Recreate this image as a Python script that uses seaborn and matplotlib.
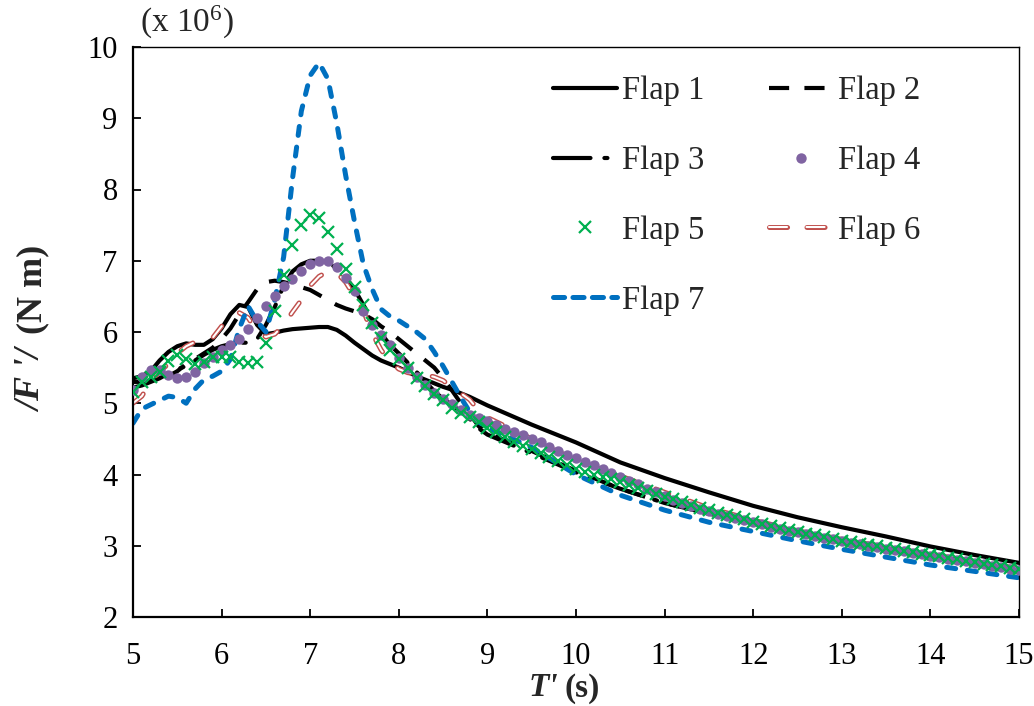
import numpy as np
import pandas as pd
import matplotlib
matplotlib.use("Agg")
import matplotlib.pyplot as plt
from matplotlib.lines import Line2D
import seaborn as sns

# ---------------- data (values in units of 10^6 N m) ----------------
T_LINE = [5.0, 5.1, 5.2, 5.3, 5.4, 5.5, 5.6, 5.7, 5.8, 5.9,
          6.0, 6.1, 6.2, 6.3, 6.4, 6.5, 6.6, 6.7, 6.8, 6.9,
          7.0, 7.1, 7.2, 7.3, 7.4, 7.5, 7.6, 7.7, 7.8, 7.9,
          8.0, 8.1, 8.2, 8.3, 8.4, 8.5, 8.6, 8.7, 8.8, 8.9,
          9.0, 9.5, 10.0, 10.5, 11.0, 11.5, 12.0, 12.5, 13.0, 13.5,
          14.0, 14.5, 15.0]

FLAP1 = [5.35, 5.38, 5.45, 5.6, 5.72, 5.8, 5.84, 5.82, 5.82, 5.9,
         6.05, 6.25, 6.38, 6.35, 6.1, 5.97, 5.99, 6.02, 6.04, 6.05,
         6.06, 6.07, 6.07, 6.03, 5.95, 5.85, 5.76, 5.67, 5.6, 5.55,
         5.5, 5.44, 5.38, 5.33, 5.28, 5.23, 5.19, 5.14, 5.09, 5.03,
         4.97, 4.7, 4.45, 4.17, 3.95, 3.75, 3.56, 3.4, 3.26, 3.13,
         2.99, 2.87, 2.76]

FLAP2 = [5.3, 5.3, 5.32, 5.33, 5.38, 5.45, 5.55, 5.62, 5.7, 5.78,
         5.9, 6.05, 6.25, 6.42, 6.6, 6.7, 6.72, 6.7, 6.67, 6.63,
         6.59, 6.52, 6.45, 6.38, 6.33, 6.29, 6.25, 6.18, 6.08, 6.0,
         5.9, 5.8, 5.7, 5.6, 5.5, 5.35, 5.18, 5.0, 4.85, 4.68,
         4.58, 4.33, 4.05, 3.8, 3.6, 3.45, 3.32, 3.19, 3.07, 2.96,
         2.86, 2.76, 2.66]

FLAP3 = [5.22, 5.25, 5.3, 5.35, 5.42, 5.48, 5.52, 5.6, 5.68, 5.75,
         5.8, 5.83, 5.85, 5.85, 5.9, 6.1, 6.35, 6.65, 6.85, 6.95,
         7.0, 7.0, 6.97, 6.9, 6.77, 6.6, 6.38, 6.17, 5.98, 5.82,
         5.7, 5.57, 5.44, 5.3, 5.17, 5.06, 4.98, 4.88, 4.78, 4.65,
         4.56, 4.3, 4.03, 3.8, 3.6, 3.45, 3.32, 3.19, 3.07, 2.96,
         2.86, 2.76, 2.66]

FLAP6 = [5.0, 5.1, 5.3, 5.45, 5.55, 5.7, 5.8, 5.86, 5.85, 5.92,
         6.08, 6.2, 6.27, 6.2, 6.0, 5.93, 5.97, 6.1, 6.28, 6.45,
         6.65, 6.78, 6.85, 6.83, 6.7, 6.5, 6.3, 5.98, 5.75, 5.58,
         5.48, 5.43, 5.41, 5.4, 5.37, 5.32, 5.22, 5.14, 5.05, 4.9,
         4.8, 4.5, 4.2, 3.98, 3.75, 3.53, 3.36, 3.21, 3.09, 2.98,
         2.88, 2.78, 2.68]

FLAP7 = [4.72, 4.92, 4.98, 5.04, 5.1, 5.08, 5.0, 5.2, 5.33, 5.38,
         5.45, 5.62, 6.05, 6.36, 6.15, 6.0, 6.45, 7.05, 8.15, 9.1,
         9.6, 9.78, 9.55, 8.93, 8.2, 7.55, 6.95, 6.6, 6.32, 6.22,
         6.16, 6.08, 6.0, 5.9, 5.72, 5.52, 5.3, 5.08, 4.88, 4.74,
         4.66, 4.38, 4.0, 3.71, 3.5, 3.33, 3.2, 3.07, 2.95, 2.84,
         2.73, 2.64, 2.55]

T_MARK = [5.0, 5.1, 5.2, 5.3, 5.4, 5.5, 5.6, 5.7, 5.8, 5.9,
          6.0, 6.1, 6.2, 6.3, 6.4, 6.5, 6.6, 6.7, 6.8, 6.9,
          7.0, 7.1, 7.2, 7.3, 7.4, 7.5, 7.6, 7.7, 7.8, 7.9,
          8.0, 8.1, 8.2, 8.3, 8.4, 8.5, 8.6, 8.7, 8.8, 8.9,
          9.0, 9.1, 9.2, 9.3, 9.4, 9.5, 9.6, 9.7, 9.8, 9.9,
          10.0, 10.1, 10.2, 10.3, 10.4, 10.5, 10.6, 10.7, 10.8, 10.9,
          11.0, 11.1, 11.2, 11.3, 11.4, 11.5, 11.6, 11.7, 11.8, 11.9,
          12.0, 12.1, 12.2, 12.3, 12.4, 12.5, 12.6, 12.7, 12.8, 12.9,
          13.0, 13.1, 13.2, 13.3, 13.4, 13.5, 13.6, 13.7, 13.8, 13.9,
          14.0, 14.1, 14.2, 14.3, 14.4, 14.5, 14.6, 14.7, 14.8, 14.9,
          15.0]

FLAP4 = [5.19, 5.37, 5.47, 5.47, 5.4, 5.35, 5.37, 5.44, 5.56, 5.65,
         5.75, 5.82, 5.9, 6.04, 6.2, 6.36, 6.5, 6.64, 6.75, 6.86,
         6.96, 7.0, 7.0, 6.91, 6.76, 6.58, 6.3, 6.1, 5.96, 5.82,
         5.64, 5.5, 5.37, 5.25, 5.15, 5.06, 4.99, 4.9, 4.83, 4.79,
         4.75, 4.69, 4.64, 4.59, 4.55, 4.5, 4.45, 4.39, 4.33, 4.28,
         4.23, 4.18, 4.13, 4.08, 4.02, 3.97, 3.91, 3.86, 3.8, 3.75,
         3.7, 3.64, 3.6, 3.56, 3.52, 3.49, 3.45, 3.42, 3.39, 3.36,
         3.33, 3.3, 3.27, 3.24, 3.21, 3.19, 3.16, 3.14, 3.11, 3.09,
         3.06, 3.04, 3.02, 3.0, 2.98, 2.96, 2.94, 2.92, 2.9, 2.88,
         2.86, 2.84, 2.82, 2.8, 2.78, 2.76, 2.74, 2.72, 2.7, 2.68,
         2.66]

FLAP5 = [5.16, 5.3, 5.37, 5.44, 5.6, 5.68, 5.62, 5.55, 5.58, 5.65,
         5.65, 5.65, 5.58, 5.56, 5.58, 5.85, 6.3, 6.8, 7.22, 7.5,
         7.64, 7.6, 7.4, 7.16, 6.88, 6.63, 6.38, 6.12, 5.92, 5.75,
         5.62, 5.5, 5.36, 5.24, 5.13, 5.04, 4.94, 4.87, 4.81, 4.73,
         4.65, 4.6, 4.52, 4.46, 4.4, 4.36, 4.3, 4.25, 4.19, 4.13,
         4.08, 4.04, 4.0, 3.96, 3.93, 3.89, 3.85, 3.81, 3.77, 3.73,
         3.69, 3.65, 3.61, 3.57, 3.53, 3.5, 3.46, 3.43, 3.4, 3.37,
         3.34, 3.31, 3.28, 3.25, 3.22, 3.2, 3.17, 3.15, 3.12, 3.1,
         3.07, 3.05, 3.03, 3.01, 2.99, 2.97, 2.95, 2.93, 2.91, 2.89,
         2.87, 2.85, 2.83, 2.81, 2.79, 2.77, 2.75, 2.73, 2.71, 2.69,
         2.67]

LABELS = ["Flap 1", "Flap 2", "Flap 3", "Flap 4", "Flap 5", "Flap 6", "Flap 7"]
X_TICKS = [5, 6, 7, 8, 9, 10, 11, 12, 13, 14, 15]
Y_TICKS = [2, 3, 4, 5, 6, 7, 8, 9, 10]

# ---------------- style ----------------
sns.set_theme(style="white")
plt.rcParams["font.family"] = ["Liberation Serif", "DejaVu Serif"]
plt.rcParams["mathtext.fontset"] = "custom"
plt.rcParams["mathtext.rm"] = "Liberation Serif"
plt.rcParams["mathtext.it"] = "Liberation Serif:italic"
plt.rcParams["mathtext.bf"] = "Liberation Serif:bold"
plt.rcParams["lines.scale_dashes"] = False

BLACK = "#000000"
PURPLE = "#8064A2"
GREEN = "#00B050"
RED = "#C0504D"
BLUE = "#0070C0"

LS2 = (0, (14.5, 11))
LS3 = (0, (27, 10, 2.2, 10))
LS6 = (0, (10, 16))
LS7 = (0, (6.5, 8.5))

W, H = 1034, 706
fig = plt.figure(figsize=(W / 100, H / 100), dpi=100)
ax = fig.add_axes([133 / W, 1 - 617 / H, (1019 - 133) / W, (617 - 47) / H])

common = dict(ax=ax, estimator=None, sort=False, legend=False)

sns.lineplot(x=T_LINE, y=FLAP1, color=BLACK, linewidth=3.0, zorder=2, **common)
sns.lineplot(x=T_LINE, y=FLAP2, color=BLACK, linewidth=3.0, linestyle=LS2, zorder=2, **common)
sns.lineplot(x=T_LINE, y=FLAP3, color=BLACK, linewidth=3.0, linestyle=LS3,
             dash_capstyle="round", zorder=2, **common)
sns.lineplot(x=T_LINE, y=FLAP6, color=RED, linewidth=3.6, linestyle=LS6,
             dash_capstyle="round", zorder=2.1, **common)
sns.lineplot(x=T_LINE, y=FLAP6, color="white", linewidth=1.5, linestyle=LS6,
             dash_capstyle="round", zorder=2.2, **common)
sns.lineplot(x=T_LINE, y=FLAP7, color=BLUE, linewidth=3.6, linestyle=LS7,
             dash_capstyle="round", zorder=2.3, **common)
sns.lineplot(x=T_MARK, y=FLAP4, color=PURPLE, linestyle="none", marker="o",
             markersize=7.5, markeredgewidth=0, markeredgecolor=PURPLE, zorder=3, **common)
sns.lineplot(x=T_MARK, y=FLAP5, color=GREEN, linestyle="none", marker="x",
             markersize=9, markeredgewidth=1.6, markeredgecolor=GREEN, zorder=4, **common)

ax.set_xlim(5, 15)
ax.set_ylim(2, 10)
ax.set_xticks(X_TICKS)
ax.set_yticks(Y_TICKS)
ax.set_xticklabels([str(v) for v in X_TICKS])
ax.set_yticklabels([str(v) for v in Y_TICKS])
ax.set_xlabel("")
ax.set_ylabel("")
ax.tick_params(axis="both", which="both", direction="in", length=6, width=1.3,
               colors="black", labelsize=22, top=False, right=False,
               left=True, bottom=True)
ax.tick_params(axis="x", pad=18)
ax.tick_params(axis="y", pad=11)
for side in ["left", "bottom"]:
    ax.spines[side].set_linewidth(1.6)
    ax.spines[side].set_color("black")
for side in ["top", "right"]:
    ax.spines[side].set_linewidth(1.0)
    ax.spines[side].set_color("black")
ax.grid(False)

# ---------------- legend ----------------
h1 = Line2D([], [], color=BLACK, linewidth=3.0)
h2 = Line2D([], [], color=BLACK, linewidth=3.0, linestyle=LS2)
h3 = Line2D([], [], color=BLACK, linewidth=3.0, linestyle=LS3, dash_capstyle="round")
h4 = Line2D([], [], color=PURPLE, linestyle="none", marker="o", markersize=7.5,
            markeredgewidth=0)
h5 = Line2D([], [], color=GREEN, linestyle="none", marker="x", markersize=9,
            markeredgewidth=1.6)
h6a = Line2D([], [], color=RED, linewidth=3.6, linestyle=(0, (13, 14)), dash_capstyle="round")
h6b = Line2D([], [], color="white", linewidth=1.5, linestyle=(0, (13, 14)), dash_capstyle="round")
h7 = Line2D([], [], color=BLUE, linewidth=3.6, linestyle=(0, (8, 6)), dash_capstyle="round")

handles = [h1, h3, h5, h7, h2, h4, (h6a, h6b)]
labels = [LABELS[0], LABELS[2], LABELS[4], LABELS[6], LABELS[1], LABELS[3], LABELS[5]]
fig.legend(handles, labels, ncol=2, loc="upper left",
           bbox_to_anchor=(553 / W, 1 - 76 / H), frameon=False,
           fontsize=23.5, handlelength=1.95, handletextpad=0.15,
           columnspacing=2.0, labelspacing=1.2, borderpad=0,
           borderaxespad=0, numpoints=1)

# ---------------- axis titles ----------------
fig.text(140 / W, 1 - 22 / H, r"(x 10$^{6}$)", fontsize=24, ha="left", va="center")
fig.text(558 / W, 1 - 688 / H, "T'", fontsize=24, fontweight="bold",
         fontstyle="italic", ha="right", va="center")
fig.text(565 / W, 1 - 688 / H, "(s)", fontsize=24, fontweight="bold",
         ha="left", va="center")
fig.text(33 / W, 1 - 412 / H, "/F '/", fontsize=26, fontweight="bold",
         fontstyle="italic", rotation=90, ha="center", va="bottom")
fig.text(33 / W, 1 - 334 / H, "(N m)", fontsize=26, fontweight="bold",
         rotation=90, ha="center", va="bottom")

fig.savefig("out.png", dpi=100, facecolor="white")
